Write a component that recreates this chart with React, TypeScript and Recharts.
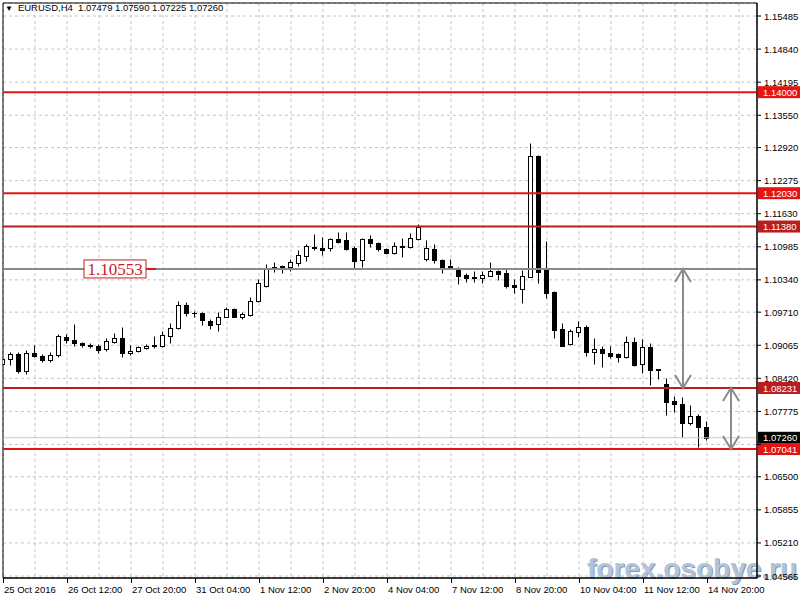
import React from 'react'
import { ComposedChart, Bar, XAxis, YAxis, CartesianGrid, ReferenceLine, ReferenceArea } from 'recharts'

// EURUSD H4, 25 Oct 04:00 .. 14 Nov 20:00 (89 bars)
const opens = [
  1.08699, 1.08791, 1.08894, 1.08563, 1.08904, 1.08855, 1.08777, 1.08875, 1.0922, 1.09167,
  1.09109, 1.0907, 1.0905, 1.08982, 1.09134, 1.092, 1.08904, 1.08958, 1.09005, 1.0907,
  1.09056, 1.09249, 1.09395, 1.0985, 1.09699, 1.09694, 1.09538, 1.09473, 1.09621, 1.09766,
  1.09616, 1.09655, 1.09933, 1.10226, 1.10591, 1.10591, 1.10585, 1.10669, 1.10811, 1.10986,
  1.10955, 1.10955, 1.11137, 1.11117, 1.10955, 1.10737, 1.11131, 1.11053, 1.10936, 1.10873,
  1.11004, 1.10986, 1.11131, 1.10741, 1.10936, 1.10737, 1.1061, 1.10561, 1.10435, 1.10399,
  1.10382, 1.10421, 1.10513, 1.10479, 1.1024, 1.10156, 1.10401, 1.12761, 1.10532, 1.10097,
  1.09376, 1.09083, 1.09329, 1.09426, 1.08939, 1.08992, 1.08919, 1.08894, 1.08841, 1.09134,
  1.08693, 1.09025, 1.08596, 1.08303, 1.07978, 1.07919, 1.07554, 1.07691, 1.07479
]
const highs = [
  1.08855, 1.08927, 1.08933, 1.08972, 1.0906, 1.08894, 1.08933, 1.09284, 1.09278, 1.09479,
  1.09128, 1.09103, 1.09089, 1.09206, 1.09294, 1.09411, 1.0907, 1.0905, 1.09089, 1.09245,
  1.09352, 1.09493, 1.09928, 1.09902, 1.09733, 1.09707, 1.09577, 1.09707, 1.09805, 1.09785,
  1.09707, 1.1, 1.10366, 1.10659, 1.10688, 1.10639, 1.10741, 1.10922, 1.11049, 1.11234,
  1.11181, 1.11166, 1.11267, 1.11267, 1.1101, 1.1115, 1.11215, 1.11084, 1.10967, 1.11072,
  1.11166, 1.11263, 1.11429, 1.11117, 1.11039, 1.10756, 1.10741, 1.106, 1.10474, 1.10513,
  1.10513, 1.10682, 1.10542, 1.10552, 1.10357, 1.10532, 1.13009, 1.12775, 1.11098, 1.10128,
  1.09504, 1.09382, 1.09538, 1.0946, 1.092, 1.09056, 1.0905, 1.08914, 1.09245, 1.09231,
  1.09181, 1.09103, 1.08602, 1.0842, 1.08081, 1.08061, 1.079, 1.07724, 1.0759
]
const lows = [
  1.0866, 1.08689, 1.08524, 1.08504, 1.08826, 1.08738, 1.08738, 1.08836, 1.09109, 1.0905,
  1.09031, 1.09011, 1.08914, 1.08962, 1.09103, 1.08826, 1.08865, 1.08927, 1.08982, 1.09005,
  1.09021, 1.09118, 1.09382, 1.09641, 1.09606, 1.0946, 1.09382, 1.09343, 1.0961, 1.0961,
  1.09577, 1.09641, 1.09908, 1.10206, 1.10493, 1.10483, 1.10513, 1.1061, 1.10708, 1.10922,
  1.10825, 1.10908, 1.11053, 1.10922, 1.10571, 1.10591, 1.10986, 1.10908, 1.10844, 1.1085,
  1.10791, 1.10971, 1.11117, 1.10717, 1.10663, 1.10479, 1.10581, 1.10269, 1.10304, 1.10308,
  1.10284, 1.10415, 1.10337, 1.10191, 1.10078, 1.09894, 1.10396, 1.10284, 1.0998, 1.09212,
  1.0905, 1.0907, 1.0922, 1.08855, 1.08693, 1.08646, 1.0881, 1.08744, 1.0881, 1.0866,
  1.08518, 1.0829, 1.08401, 1.07705, 1.07769, 1.0727, 1.0751, 1.07086, 1.07225
]
const closes = [
  1.08797, 1.08888, 1.08563, 1.08914, 1.08861, 1.08777, 1.08875, 1.09245, 1.09167, 1.09109,
  1.09079, 1.09044, 1.08972, 1.09138, 1.092, 1.08923, 1.08953, 1.09025, 1.0905, 1.0905,
  1.09265, 1.09395, 1.0985, 1.09688, 1.09684, 1.09557, 1.0946, 1.09621, 1.09766, 1.09621,
  1.09674, 1.09933, 1.10273, 1.10546, 1.106, 1.1061, 1.10692, 1.10825, 1.11, 1.10961,
  1.10922, 1.11131, 1.11088, 1.10951, 1.10713, 1.11131, 1.11053, 1.10936, 1.10869, 1.11,
  1.1099, 1.1115, 1.11371, 1.10961, 1.10731, 1.10591, 1.10585, 1.10421, 1.10382, 1.1037,
  1.10435, 1.10513, 1.10454, 1.1022, 1.10206, 1.10421, 1.12755, 1.10499, 1.10089, 1.09362,
  1.09056, 1.09343, 1.09415, 1.08939, 1.08992, 1.08908, 1.08861, 1.08841, 1.09122, 1.0868,
  1.09025, 1.08582, 1.08588, 1.07964, 1.07913, 1.07554, 1.07685, 1.07476, 1.0726
]

// one label every 8 bars
const timeLabels = [
  '25 Oct 2016', '26 Oct 12:00', '27 Oct 20:00', '31 Oct 04:00', '1 Nov 12:00', '2 Nov 20:00',
  '4 Nov 04:00', '7 Nov 12:00', '8 Nov 20:00', '10 Nov 04:00', '11 Nov 12:00', '14 Nov 20:00'
]
// grid every 4 bars
const barTicks = [0, 4, 8, 12, 16, 20, 24, 28, 32, 36, 40, 44, 48, 52, 56, 60, 64, 68, 72, 76, 80, 84, 88, 92]
const priceTicks = [
  1.04565, 1.0521, 1.05855, 1.065, 1.0713, 1.07775, 1.0842, 1.09065, 1.0971, 1.1034,
  1.10985, 1.1163, 1.12275, 1.1292, 1.1355, 1.14195, 1.1484, 1.15485
]
const hiddenPriceTicks = [1.0713]

const levels = [1.14, 1.1203, 1.1138, 1.08231, 1.07041]
const levelColors = ['#e51414', '#e51414', '#b91d1d', '#b91d1d', '#e51414']
const pivot = 1.10553
const bid = 1.0726
const lastBar = 88

const X_MAX = 94.25
const Y_MIN = 1.04526
const Y_MAX = 1.15739
const FONT = '"Liberation Sans", Arial, sans-serif'

const data = opens.map((o, i) => ({
  i,
  range: [lows[i], highs[i]],
  open: o,
  high: highs[i],
  low: lows[i],
  close: closes[i]
}))

const Candle = (props: any) => {
  const { x, y, width, height, payload } = props
  if (x == null || y == null) return <g />
  const { open, close, high, low } = payload
  const h = Math.abs(height)
  const top = Math.min(y, y + height)
  const ratio = h / (high - low)
  const yOf = (v: number) => top + (high - v) * ratio
  const wx = Math.floor(x + width / 2) + 0.5
  const yH = Math.round(yOf(high)) + 0.5
  const yL = Math.round(yOf(low)) + 0.5
  const bTop = Math.round(yOf(Math.max(open, close))) + 0.5
  const bBot = Math.round(yOf(Math.min(open, close))) + 0.5
  const bull = close > open
  return (
    <g>
      <line x1={wx} y1={yH} x2={wx} y2={yL} stroke="#000" strokeWidth={1} />
      {bBot - bTop < 1 ? (
        <line x1={wx - 2.5} y1={bTop} x2={wx + 2.5} y2={bTop} stroke="#000" strokeWidth={1} />
      ) : (
        <rect x={wx - 2} y={bTop} width={4} height={bBot - bTop} fill={bull ? '#fff' : '#000'} stroke="#000" strokeWidth={1} />
      )}
    </g>
  )
}

const XTick = (props: any) => {
  const { x, y, payload } = props
  const k = payload.value
  if (k % 8 !== 0 || k / 8 >= timeLabels.length) return <g />
  return (
    <g>
      <line x1={x + 0.5} y1={y} x2={x + 0.5} y2={y + 5} stroke="#000" />
      <text x={x + 1} y={y + 15} fontSize={9.5} fontFamily={FONT} fill="#000" textAnchor="start">
        {timeLabels[k / 8]}
      </text>
    </g>
  )
}

const YTick = (props: any) => {
  const { x, y, payload } = props
  if (hiddenPriceTicks.includes(payload.value)) return <g />
  return (
    <text x={x} y={y + 3.5} fontSize={9.5} fontFamily={FONT} fill="#000" textAnchor="start">
      {payload.value.toFixed(5)}
    </text>
  )
}

const PriceTag = ({ viewBox, value, color }: any) => {
  if (!viewBox) return null
  const right = viewBox.x + viewBox.width
  const ly = viewBox.y
  return (
    <g>
      <rect x={right + 1} y={ly - 6} width={43} height={12} fill={color} />
      <text x={right + 6} y={ly + 3.5} fontSize={9.5} fontFamily={FONT} fill="#fff">
        {value.toFixed(5)}
      </text>
    </g>
  )
}

const PivotLabel = ({ viewBox }: any) => {
  if (!viewBox) return null
  const ly = viewBox.y
  const bx = viewBox.x + 81
  return (
    <g>
      <line x1={bx + 62} y1={ly} x2={bx + 72} y2={ly} stroke="#c81e1e" strokeWidth={2} />
      <rect x={bx} y={ly - 9} width={62} height={18} fill="#fff" stroke="#c81e1e" strokeWidth={1} />
      <text x={bx + 31} y={ly + 6} fontSize={17} fontFamily='"Liberation Serif", "Times New Roman", serif' fill="#c81e1e" textAnchor="middle">
        {pivot.toFixed(5)}
      </text>
    </g>
  )
}

const Arrow = (props: any) => {
  const { x1, y1, x2, y2 } = props
  const top = Math.min(y1, y2)
  const bot = Math.max(y1, y2)
  const x = Math.round(x1)
  return (
    <g stroke="#8c8c8c" strokeWidth={2} fill="none">
      <line x1={x} y1={top} x2={x} y2={bot} />
      <polyline points={`${x - 8},${top + 13} ${x},${top} ${x + 8},${top + 13}`} />
      <polyline points={`${x - 8},${bot - 13} ${x},${bot} ${x + 8},${bot - 13}`} />
    </g>
  )
}

const App = () => {
  const last = lastBar
  const header = `EURUSD,H4  ${opens[last].toFixed(5)} ${highs[last].toFixed(5)} ${lows[last].toFixed(5)} ${closes[last].toFixed(5)}`
  return (
    <div style={{ position: 'relative', width: 800, height: 600, background: '#fff' }}>
      <style>{'body{margin:0}'}</style>
      {/* watermark sits under the chart */}
      <div style={{
        position: 'absolute', left: 587, top: 553, fontFamily: FONT, fontWeight: 'bold', fontSize: 28,
        color: '#b3c3d8', textShadow: '1px 1px 0 #8599b5', whiteSpace: 'pre', pointerEvents: 'none'
      }}>
        forex.osobye.ru
      </div>
      <div style={{ position: 'absolute', left: 0, top: 0 }}>
        <ComposedChart width={800} height={600} data={data} margin={{ top: 3, right: 0, bottom: 0, left: 3 }}>
          <CartesianGrid stroke="#c4c4c4" strokeDasharray="3 3" />
          <XAxis
            dataKey="i"
            type="number"
            domain={[0, X_MAX]}
            allowDataOverflow
            ticks={barTicks}
            interval={0}
            height={22}
            tickSize={0}
            tickMargin={0}
            tickLine={false}
            axisLine={{ stroke: '#000' }}
            tick={<XTick />}
          />
          <YAxis
            orientation="right"
            type="number"
            domain={[Y_MIN, Y_MAX]}
            allowDataOverflow
            ticks={priceTicks}
            interval={0}
            width={43}
            tickSize={4}
            tickMargin={3}
            tickLine={{ stroke: '#000' }}
            axisLine={{ stroke: '#000' }}
            tick={<YTick />}
          />
          <Bar dataKey="range" barSize={5} shape={<Candle />} isAnimationActive={false} />
          <ReferenceLine y={bid} stroke="#c8c8c8" strokeWidth={1}
            label={{ content: (p: any) => <PriceTag viewBox={p.viewBox} value={bid} color="#000" /> }} />
          <ReferenceLine y={pivot} stroke="#8a8a8a" strokeWidth={2}
            label={{ content: (p: any) => <PivotLabel viewBox={p.viewBox} /> }} />
          {levels.map((lv, idx) => (
            <ReferenceLine key={lv} y={lv} stroke={levelColors[idx]} strokeWidth={2}
              label={{ content: (p: any) => <PriceTag viewBox={p.viewBox} value={lv} color={levelColors[idx]} /> }} />
          ))}
          <ReferenceLine segment={[{ x: 85, y: pivot }, { x: 85, y: levels[3] }]} shape={<Arrow />} />
          <ReferenceLine segment={[{ x: 91, y: levels[3] }, { x: 91, y: levels[4] }]} shape={<Arrow />} />
          <ReferenceArea x1={0} x2={X_MAX} y1={Y_MIN} y2={Y_MAX} fill="none" stroke="#000" strokeWidth={1} />
        </ComposedChart>
      </div>
      <div style={{ position: 'absolute', left: 5, top: 2, fontFamily: FONT, fontSize: 9.5, color: '#000', whiteSpace: 'pre', pointerEvents: 'none' }}>
        <span style={{ fontSize: 8 }}>▼</span>
        <span style={{ marginLeft: 5 }}>{header}</span>
      </div>
    </div>
  )
}

export default App
